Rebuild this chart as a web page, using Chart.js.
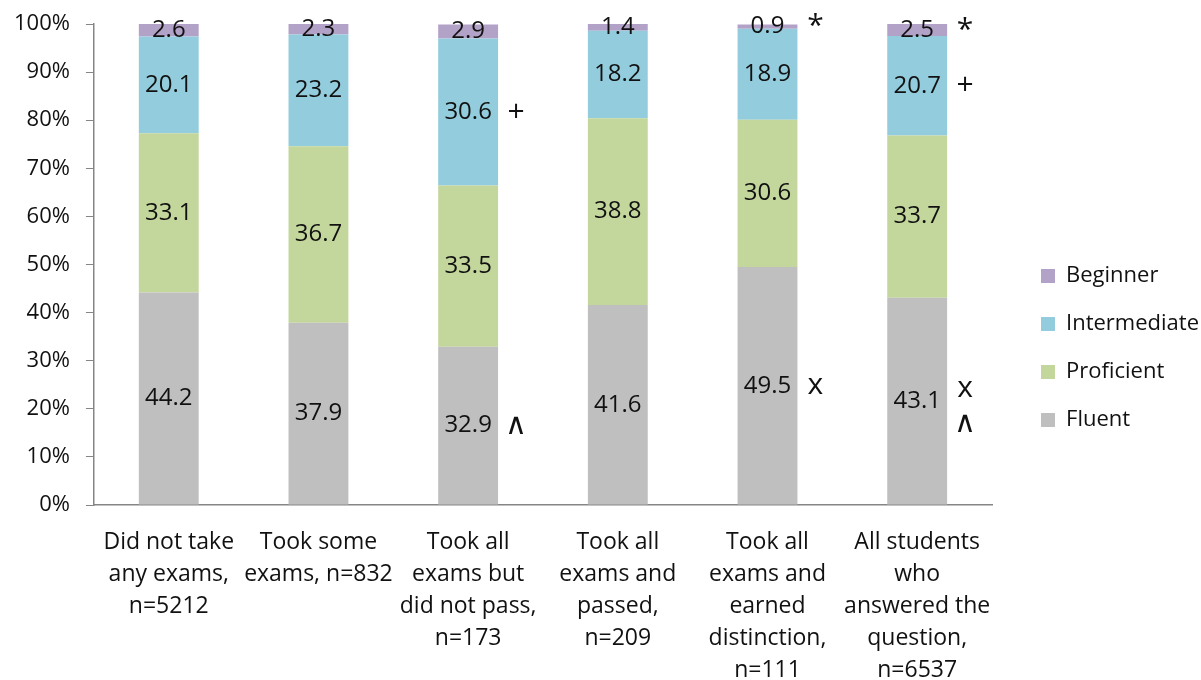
<!DOCTYPE html>
<html>
<head>
<meta charset="utf-8">
<script src="https://cdn.jsdelivr.net/npm/chart.js@4.4.0/dist/chart.umd.min.js"></script>
<style>
  html, body { margin: 0; padding: 0; background: #fff; }
  #wrap { width: 1201px; height: 680px; }
</style>
</head>
<body>
<div id="wrap"><canvas id="myChart"></canvas></div>
<script>
const categories = [
  ['Did not take', 'any exams,', 'n=5212'],
  ['Took some', 'exams, n=832'],
  ['Took all', 'exams but', 'did not pass,', 'n=173'],
  ['Took all', 'exams and', 'passed,', 'n=209'],
  ['Took all', 'exams and', 'earned', 'distinction,', 'n=111'],
  ['All students', 'who', 'answered the', 'question,', 'n=6537']
];
const fluent = [44.2, 37.9, 32.9, 41.6, 49.5, 43.1];
const proficient = [33.1, 36.7, 33.5, 38.8, 30.6, 33.7];
const intermediate = [20.1, 23.2, 30.6, 18.2, 18.9, 20.7];
const beginner = [2.6, 2.3, 2.9, 1.4, 0.9, 2.5];

// significance marks shown to the right of a segment
const fluentMarks = ['', '', '∧', '', 'x', 'x\n∧'];
const proficientMarks = ['', '', '', '', '', ''];
const intermediateMarks = ['', '', '+', '', '', '+'];
const beginnerMarks = ['', '', '', '', '*', '*'];

const FONT = '"Open Sans", "Noto Sans", sans-serif';

const labelPlugin = {
  id: 'segLabels',
  afterLayout(chart) {
    // nudge the legend closer to the canvas edge, like the original
    const lg = chart.legend;
    if (lg) { lg.left += 23; lg.right += 23; lg.top -= 4; lg.bottom -= 4; }
  },
  afterDatasetsDraw(chart) {
    const c = chart.ctx;
    c.save();
    c.textAlign = 'center';
    c.textBaseline = 'middle';
    chart.data.datasets.forEach((ds, i) => {
      const meta = chart.getDatasetMeta(i);
      meta.data.forEach((bar, j) => {
        const yMid = (bar.y + bar.base) / 2;
        c.fillStyle = '#111';
        c.font = '24px ' + FONT;
        c.fillText(ds.data[j].toFixed(1), bar.x, yMid);
        const mark = ds.marks[j];
        if (mark) {
          c.font = '30px ' + FONT;
          const lines = mark.split('\n');
          const x = bar.x + bar.width / 2 + 18;
          lines.forEach((m, k) => {
            const y = yMid + (k - (lines.length - 1) / 2) * 35 + (lines.length > 1 ? 5 : 0);
            c.fillText(m, x, y);
          });
        }
      });
    });
    c.restore();
  }
};

new Chart(document.getElementById('myChart'), {
  type: 'bar',
  data: {
    labels: categories,
    datasets: [
      { label: 'Fluent', data: fluent, marks: fluentMarks, backgroundColor: '#bfbfbf' },
      { label: 'Proficient', data: proficient, marks: proficientMarks, backgroundColor: '#c3d69b' },
      { label: 'Intermediate', data: intermediate, marks: intermediateMarks, backgroundColor: '#93cddd' },
      { label: 'Beginner', data: beginner, marks: beginnerMarks, backgroundColor: '#b3a2c7' }
    ]
  },
  options: {
    responsive: true,
    maintainAspectRatio: false,
    animation: false,
    barPercentage: 0.4,
    categoryPercentage: 1,
    layout: { padding: { top: 24, right: 15, bottom: 0, left: -2 } },
    scales: {
      x: {
        stacked: true,
        grid: { display: false },
        border: { display: true, color: '#868686', width: 1.5 },
        ticks: { color: '#111', font: { family: FONT, size: 23, lineHeight: 1.4 }, padding: 13, maxRotation: 0, autoSkip: false },
        afterFit: scale => { scale.height = 175; }
      },
      y: {
        stacked: true,
        min: 0,
        max: 100,
        grid: { display: true, drawOnChartArea: false, drawTicks: true, tickLength: 8, color: '#868686' },
        border: { display: true, color: '#868686', width: 1.5 },
        ticks: {
          stepSize: 10,
          color: '#111',
          padding: 16,
          font: { family: FONT, size: 22 },
          callback: v => v + '%'
        },
        afterFit: scale => { scale.paddingTop = 0; scale.paddingBottom = 0; }
      }
    },
    plugins: {
      legend: {
        position: 'right',
        reverse: true,
        labels: {
          boxWidth: 14,
          boxHeight: 14,
          padding: 26,
          color: '#111',
          font: { family: FONT, size: 22 }
        }
      },
      tooltip: { enabled: false }
    }
  },
  plugins: [labelPlugin]
});
</script>
</body>
</html>
